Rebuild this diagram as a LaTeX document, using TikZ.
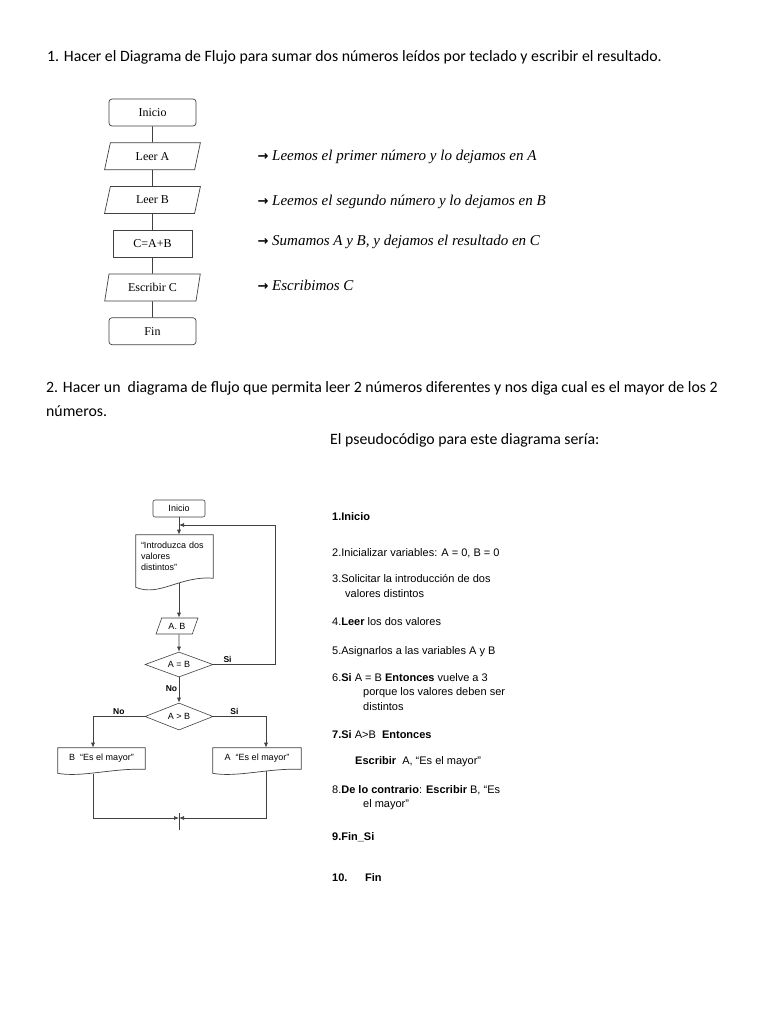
\documentclass[tikz,border=0pt]{standalone}
\usepackage{amsmath}
\usepackage{fontspec}
\setmainfont{Liberation Serif}
\newfontfamily\headfont{Carlito}
\newfontfamily\arialfont{Liberation Sans}
\newfontfamily\symfont{DejaVu Sans}
\usetikzlibrary{shapes.geometric, arrows.meta, positioning}

% outline of a document symbol with a wavy bottom (node name, dip)
\newcommand{\docoutline}[2]{%
  \draw[flowline] (#1.north west) -- (#1.north east) -- (#1.south east)
    .. controls ([xshift=-33pt,yshift=#2*0.33pt]#1.south east) and ([xshift=24pt,yshift=-#2*2.1pt]#1.south west)
    .. ([yshift=-#2pt]#1.south west) -- cycle;}
\newcommand{\notearrow}{{\symfont\bfseries\upshape\fontsize{13}{15}\selectfont →}}

\begin{document}
\begin{tikzpicture}[
        x=1pt, y=-1pt,
        flowline/.style={draw=black!75, line width=0.7pt},
        arrow/.style={flowline, -{Latex[length=5pt, width=4pt]}},
        termbox/.style={rectangle, draw=black!75, line width=0.7pt, rounded corners=3pt, align=center, minimum width=87pt, minimum height=27pt, inner sep=0pt, font=\fontsize{12}{14}\selectfont},
        iobox/.style={trapezium, trapezium left angle=74, trapezium right angle=106, trapezium stretches=true, draw=black!75, line width=0.7pt, minimum width=96pt, minimum height=27pt, inner sep=0pt, font=\fontsize{12}{14}\selectfont},
        procbox/.style={rectangle, draw=black!75, line width=0.9pt, minimum width=79pt, minimum height=27pt, inner sep=0pt, font=\fontsize{12}{14}\selectfont},
        note/.style={anchor=west, font=\fontsize{15}{18}\selectfont\itshape},
        heading/.style={anchor=west, inner sep=0pt, font=\headfont\fontsize{15.8}{18}\selectfont},
        smallbox/.style={draw=black!75, line width=0.6pt, inner sep=0pt, font=\arialfont\fontsize{9}{11}\selectfont},
        lbl/.style={inner sep=1.5pt, font=\arialfont\bfseries\fontsize{8.5}{10}\selectfont},
        pseudo/.style={anchor=west, inner sep=0pt, font=\arialfont\fontsize{11}{13}\selectfont}
    ]
    \fill[white] (0,0) rectangle (768,1024);
    \useasboundingbox (0,0) rectangle (768,1024);

    % headings
    \node[heading] (head1) at (47,57) {1. Hacer el Diagrama de Flujo para sumar dos números leídos por teclado y escribir el resultado.};
    \node[heading] (head2) at (46,388) {2. Hacer un~ diagrama de flujo que permita leer 2 números diferentes y nos diga cual es el mayor de los 2};
    \node[heading] (head2b) at (46,411) {números.};
    \node[heading] (headPseudo) at (330,440) {El pseudocódigo para este diagrama sería:};

    % first flowchart
    \node[termbox] (inicio) at (152.5,112.5) {Inicio};
    \node[iobox, below=16pt of inicio] (leerA) {Leer A};
    \node[iobox, below=16pt of leerA] (leerB) {Leer B};
    \node[procbox, below=16pt of leerB] (suma) {C=A+B};
    \node[iobox, below=16pt of suma] (escribir) {Escribir C};
    \node[termbox, below=16pt of escribir] (fin) {Fin};

    \draw[flowline] (inicio) -- (leerA);
    \draw[flowline] (leerA) -- (leerB);
    \draw[flowline] (leerB) -- (suma);
    \draw[flowline] (suma) -- (escribir);
    \draw[flowline] (escribir) -- (fin);

    \node[note] (noteA) at (254,157) {\notearrow\ Leemos el primer número y lo dejamos en A};
    \node[note] (noteB) at (254,202) {\notearrow\ Leemos el segundo número y lo dejamos en B};
    \node[note] (noteC) at (254,242) {\notearrow\ Sumamos A y B, y dejamos el resultado en C};
    \node[note] (noteE) at (254,285) {\notearrow\ Escribimos C};

    % second flowchart
    \node[smallbox, rounded corners=2pt, minimum width=52pt, minimum height=17pt] (inicio2) at (179,508.5) {Inicio};
    \node[smallbox, draw=none, text width=67pt, minimum height=43pt, align=left, inner xsep=5pt, font=\arialfont\fontsize{9}{11}\selectfont] (msg) at (174.5,556.5) {“Introduzca dos\\valores\\distintos”};
    \docoutline{msg}{9}
    \node[smallbox, trapezium, trapezium left angle=63, trapezium right angle=117, trapezium stretches=true, minimum width=42pt, minimum height=16pt] (ab) at (177,626) {A. B};
    \node[smallbox, diamond, aspect=2.7, minimum width=68pt, minimum height=25pt] (eq) at (179,664.5) {A = B};
    \node[smallbox, diamond, aspect=2.7, minimum width=68pt, minimum height=27pt] (gt) at (179,716.5) {A > B};
    \node[smallbox, draw=none, minimum width=87pt, minimum height=21pt] (outB) at (101.5,758.5) {B~ “Es el mayor”};
    \docoutline{outB}{4}
    \node[smallbox, draw=none, minimum width=88pt, minimum height=21pt] (outA) at (257,758.5) {A~ “Es el mayor”};
    \docoutline{outA}{4}

    \coordinate (loopin) at (179,525);
    \coordinate (msgout) at ([yshift=-5pt]msg.south);
    \coordinate (merge) at (179,818);

    \draw[arrow] (inicio2) -- (msg.north -| inicio2.south);
    \draw[arrow] (msgout -| ab.north) ++(2,0) -- ([xshift=2pt]ab.north);
    \draw[arrow] ([xshift=2pt]ab.south) -- (eq);
    \draw[arrow] (eq) -- node[lbl, left, pos=0.45] {No} (gt);
    \draw[arrow] (eq.east) -- node[lbl, above, pos=0.23] {Si} ++(62,0) |- (loopin);
    \draw[arrow] (gt.west) -| node[lbl, above, pos=0.25] {No} ([xshift=-8.5pt]outB.north);
    \draw[arrow] (gt.east) -| node[lbl, above, pos=0.2] {Si} ([xshift=9pt]outA.north);
    \draw[arrow] ([xshift=-8.5pt,yshift=-5pt]outB.south) |- (merge);
    \draw[arrow] ([xshift=9pt,yshift=-2pt]outA.south) |- (merge);
    \draw[flowline] ([yshift=5pt]merge) -- ([yshift=-12pt]merge);

    % pseudocode
    \node[pseudo] (p1) at (332,517) {\textbf{1.Inicio}};
    \node[pseudo] (p2) at (332,553) {2.Inicializar variables: A = 0, B = 0};
    \node[pseudo] (p3) at (332,578) {3.Solicitar la introducción de dos};
    \node[pseudo] (p3b) at (345,594) {valores distintos};
    \node[pseudo] (p4) at (332,622) {4.\textbf{Leer} los dos valores};
    \node[pseudo] (p5) at (332,652) {5.Asignarlos a las variables A y B};
    \node[pseudo] (p6) at (332,678) {6.\textbf{Si} A = B \textbf{Entonces} vuelve a 3};
    \node[pseudo] (p6b) at (363,693) {porque los valores deben ser};
    \node[pseudo] (p6c) at (363,707) {distintos};
    \node[pseudo] (p7) at (332,735) {\textbf{7.Si} A>B~ \textbf{Entonces}};
    \node[pseudo] (p7b) at (355,762) {\textbf{Escribir}~ A, “Es el mayor”};
    \node[pseudo] (p8) at (332,790) {8.\textbf{De lo contrario}: \textbf{Escribir} B, “Es};
    \node[pseudo] (p8b) at (363,805) {el mayor”};
    \node[pseudo] (p9) at (332,837) {\textbf{9.Fin\_Si}};
    \node[pseudo] (p10) at (332,878) {\textbf{10.}};
    \node[pseudo] (p10b) at (365,878) {\textbf{Fin}};

\end{tikzpicture}
\end{document}
